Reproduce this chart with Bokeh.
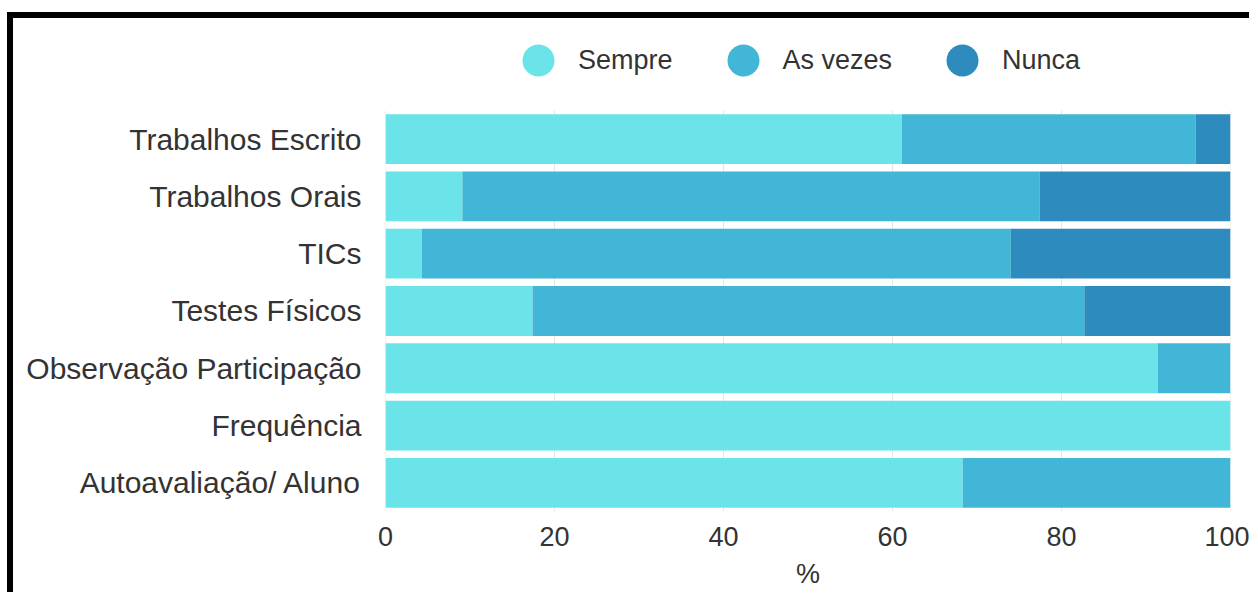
from bokeh.plotting import figure
from bokeh.models import ColumnDataSource, Range1d, Legend, LegendItem, FixedTicker
from bokeh.embed import file_html
from bokeh.resources import INLINE

# ---- data ----
categories = ["Trabalhos Escrito", "Trabalhos Orais", "TICs", "Testes Físicos",
              "Observação Participação", "Frequência", "Autoavaliação/ Aluno"]
sempre = [61.1, 9.1, 4.3, 17.4, 91.4, 100.0, 68.3]
as_vezes = [34.8, 68.3, 69.7, 65.3, 8.6, 0.0, 31.7]
nunca = [4.1, 22.6, 26.0, 17.3, 0.0, 0.0, 0.0]
series = ["Sempre", "As vezes", "Nunca"]
colors = ["#6ae4e8", "#42b6d6", "#2e8bbd"]
x_ticks = [0, 20, 40, 60, 80, 100]
x_label = "%"

FONT = "Liberation Sans"
TXT = "#333333"

n = len(categories)
y_pos = [n - 1 - i for i in range(n)]  # first category on top

source = ColumnDataSource(data={
    "y": y_pos,
    "Sempre": sempre,
    "As vezes": as_vezes,
    "Nunca": nunca,
})

p = figure(
    width=1242, height=580,
    y_range=Range1d(-0.5, n - 0.5 + 1.43),   # extra room on top for the legend
    x_range=Range1d(0, 100),
    output_backend="svg", toolbar_location=None,
    min_border_left=372, min_border_right=25,
    min_border_top=10, min_border_bottom=87,
)
p.styles = {"border-top": "6px solid black", "border-left": "6px solid black",
            "margin-top": "12px", "margin-left": "7px"}
p.outline_line_color = None
p.xgrid.grid_line_color = None
p.ygrid.grid_line_color = None

# light vertical grid lines behind the bars (only over the bar area)
p.segment(x0=x_ticks, x1=x_ticks, y0=[-0.5] * len(x_ticks),
          y1=[n - 0.5] * len(x_ticks), line_color="#e6e6e6", line_width=1)

p.hbar_stack(series, y="y", height=0.87, color=colors,
             line_color=None, source=source)

# legend markers: renderers with a NaN point (nothing drawn in the plot area)
nan = float("nan")
items = []
for name, c in zip(series, colors):
    r = p.scatter(x=[nan], y=[nan], marker="circle", size=32, fill_color=c, line_color=None)
    items.append(LegendItem(label=name, renderers=[r]))

legend = Legend(items=items, orientation="horizontal", location=(113, 411),
                glyph_width=80, glyph_height=80, label_standoff=0, spacing=30,
                padding=0, margin=0, border_line_color=None,
                background_fill_alpha=0,
                label_text_font=FONT, label_text_font_size="27px",
                label_text_color=TXT)
p.add_layout(legend, "center")

# axes
p.xaxis.ticker = FixedTicker(ticks=x_ticks)
p.xaxis.axis_label = x_label
p.yaxis.ticker = FixedTicker(ticks=y_pos)
p.yaxis.major_label_overrides = {float(y): c for y, c in zip(y_pos, categories)}
for ax in (p.xaxis, p.yaxis):
    ax.axis_line_color = None
    ax.major_tick_line_color = None
    ax.minor_tick_line_color = None
    ax.major_tick_out = 0
    ax.major_tick_in = 0
    ax.major_label_text_font = FONT
    ax.major_label_text_color = TXT
p.xaxis.major_label_text_font_size = "27px"
p.xaxis.major_label_standoff = 15
p.xaxis.axis_label_text_font = FONT
p.xaxis.axis_label_text_font_size = "27px"
p.xaxis.axis_label_text_font_style = "normal"
p.xaxis.axis_label_text_color = TXT
p.xaxis.axis_label_standoff = 10
p.yaxis.major_label_text_font_size = "30px"
p.yaxis.major_label_standoff = 24

open("out.html", "w").write(file_html(p, INLINE))
